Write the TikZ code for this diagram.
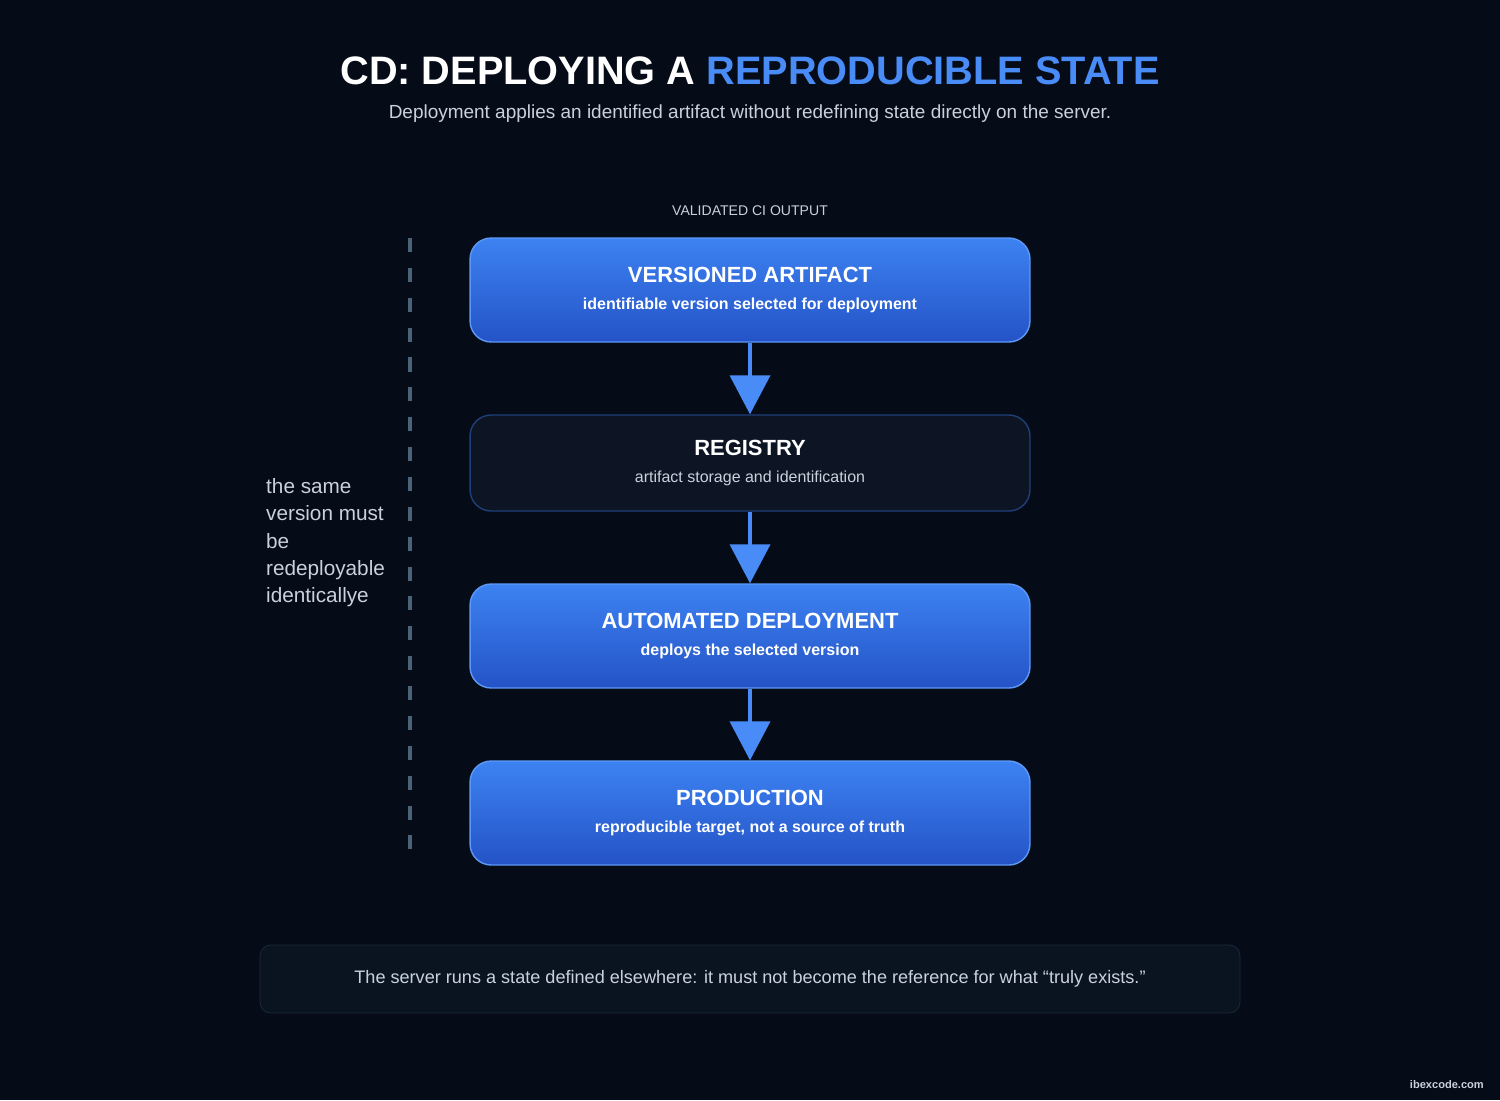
\documentclass[tikz,border=0pt]{standalone}
\usepackage{fontspec}
\setmainfont{Liberation Sans}
\usetikzlibrary{arrows.meta,positioning}
\definecolor{bgdark}{HTML}{050C17}
\definecolor{boxtop}{HTML}{3D82F2}
\definecolor{boxbot}{HTML}{2453C6}
\definecolor{boxline}{HTML}{5C98F6}
\definecolor{regfill}{HTML}{0D1524}
\definecolor{regline}{HTML}{1F3F78}
\definecolor{accent}{HTML}{4A8CF7}
\definecolor{softtext}{HTML}{C9D1DC}
\definecolor{dashcol}{HTML}{4A6378}
\definecolor{notefill}{HTML}{0A1421}
\definecolor{noteline}{HTML}{1C2A3A}
\tikzset{
	stage/.style = {
			rounded corners=12pt,
			draw            = boxline,
			line width      = 0.8pt,
			top color       = boxtop,
			bottom color    = boxbot,
			minimum width   = 11.2cm,
			minimum height  = 2.08cm,
			align           = center,
			text            = white,
		},
	store/.style = {
			stage,
			top color       = regfill,
			bottom color    = regfill,
			draw            = regline,
			minimum height  = 1.92cm,
		},
	flow/.style = {draw=accent, line width=2.2pt,
			-{Triangle[width=0.8cm,length=0.78cm]}},
}
\newcommand{\stagetext}[2]{{\fontsize{12.5}{15}\selectfont\bfseries #1}\\[3pt]{\fontsize{9.1}{10}\selectfont\bfseries #2}}
\begin{document}
\begin{tikzpicture}[x=0.02cm,y=-0.02cm]
	% Background
	\fill[bgdark] (0,0) rectangle (1500,1100);

	% Title and subtitle
	\node[text=white,font=\fontsize{22.6}{27}\selectfont\bfseries] (title) at (750,71)
		{CD: DEPLOYING A \textcolor{accent}{REPRODUCIBLE STATE}};
	\node[text=softtext,font=\fontsize{10.8}{13}\selectfont] (subtitle) at (750,114)
		{Deployment applies an identified artifact without redefining state directly on the server.};

	% Pipeline
	\node[text=softtext,font=\fontsize{8}{10}\selectfont] (ciout) at (750,211) {VALIDATED CI OUTPUT};
	\node[stage] (artifact) at (750,290)
		{\stagetext{VERSIONED ARTIFACT}{identifiable version selected for deployment}};
	\node[store] (registry) at (750,463)
		{{\fontsize{12.5}{15}\selectfont\bfseries REGISTRY}\\[3pt]{\fontsize{9.1}{10}\selectfont\color{softtext}artifact storage and identification}};
	\node[stage] (deploy) at (750,636)
		{\stagetext{AUTOMATED DEPLOYMENT}{deploys the selected version}};
	\node[stage] (prod) at (750,813)
		{\stagetext{PRODUCTION}{reproducible target, not a source of truth}};

	\draw[flow] (artifact) -- (registry);
	\draw[flow] (registry) -- (deploy);
	\draw[flow] (deploy) -- (prod);

	% Side note
	\coordinate (dashtop) at (410,238);
	\coordinate (dashbot) at (410,856);
	\draw[dashcol,line width=2.2pt,dash pattern=on 8pt off 9pt] (dashtop) -- (dashbot);
	\node[text=softtext,anchor=north west,align=left,font=\fontsize{11.8}{15.6}\selectfont] (same) at (260,472)
		{the same\\version must\\be\\redeployable\\identicallye};

	% Footer note
	\node[draw=noteline,fill=notefill,rounded corners=6pt,minimum width=19.6cm,minimum height=1.36cm,
		text=softtext,font=\fontsize{10.3}{12}\selectfont] (note) at (750,979)
		{The server runs a state defined elsewhere: it must not become the reference for what “truly exists.”};
	\node[text=softtext,font=\fontsize{6.3}{8}\selectfont\bfseries,anchor=east] (mark) at (1490,1085) {ibexcode.com};
\end{tikzpicture}
\end{document}
